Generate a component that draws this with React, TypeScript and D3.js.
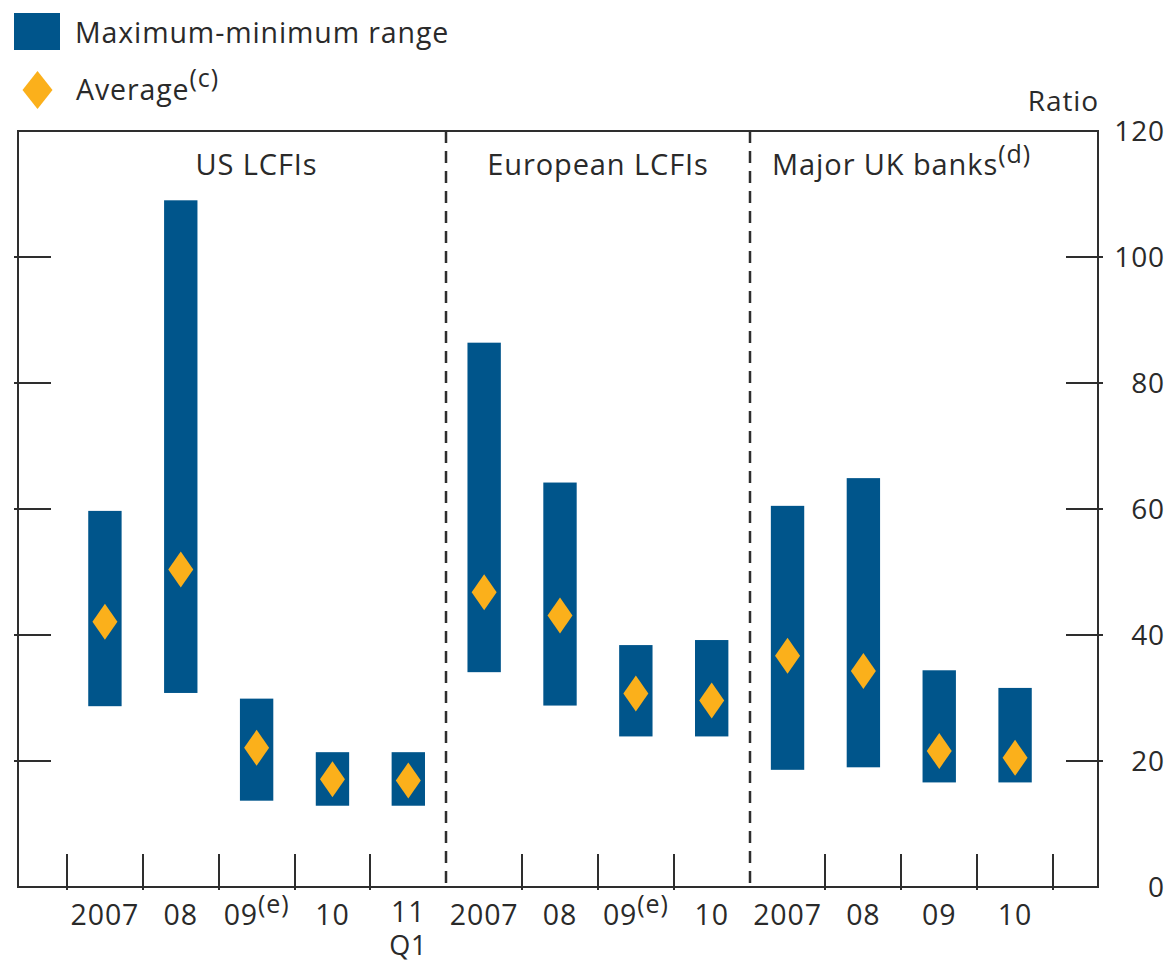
import { useEffect, useRef } from "react";
import * as d3 from "d3";

// bank groups and the periods inside each
const groupNames = ["US LCFIs", "European LCFIs", "Major UK banks"];
const groupNotes = ["", "", "(d)"];
const groupOf = [0, 0, 0, 0, 0, 1, 1, 1, 1, 2, 2, 2, 2];
const periodLabels = ["2007", "08", "09", "10", "11", "2007", "08", "09", "10", "2007", "08", "09", "10"];
const periodNotes = ["", "", "(e)", "", "", "", "", "(e)", "", "", "", "", ""];
const periodSubLabels = ["", "", "", "", "Q1", "", "", "", "", "", "", "", ""];

// ratio values
const maxValues = [59.7, 109, 29.9, 21.4, 21.4, 86.4, 64.2, 38.4, 39.2, 60.5, 64.9, 34.4, 31.6];
const minValues = [28.7, 30.8, 13.7, 12.9, 12.9, 34.1, 28.8, 23.9, 23.9, 18.6, 19.0, 16.6, 16.6];
const averages = [42.1, 50.4, 22.1, 17.1, 16.9, 46.8, 43.1, 30.7, 29.6, 36.7, 34.3, 21.6, 20.5];
const yTicks = [0, 20, 40, 60, 80, 100, 120];

const BAR = "#00558b";
const DIAMOND = "#fbb01b";
const INK = "#2a2a2a";
const LINE = "#2e2e2e";
const FONT = "'Open Sans', 'Noto Sans', sans-serif";

export default function App() {
  const svgRef = useRef<SVGSVGElement>(null);

  useEffect(() => {
    const svg = d3.select(svgRef.current);
    svg.selectAll("*").remove();

    const frame = { left: 18, right: 1098 };
    const y = d3.scaleLinear().domain([0, 120]).range([887, 131]);
    const idx = periodLabels.map((_, i) => String(i));
    const x = d3
      .scaleBand<string>()
      .domain(idx)
      .range([67, 1053])
      .paddingInner(0.56)
      .paddingOuter(0.28);
    const gap = (x.step() - x.bandwidth()) / 2;
    const boundary = (k: number) =>
      Math.round(
        k < idx.length ? (x(String(k)) || 0) - gap : (x(String(k - 1)) || 0) + x.bandwidth() + gap
      );
    const centre = (i: number) => (x(String(i)) || 0) + x.bandwidth() / 2;

    const g = svg
      .append("g")
      .attr("font-family", FONT)
      .attr("fill", INK)
      .attr("letter-spacing", 0.9);

    // legend
    g.append("rect").attr("x", 14).attr("y", 13).attr("width", 46).attr("height", 37).attr("fill", BAR);
    g.append("text").attr("x", 75).attr("y", 43).attr("font-size", 28.5).text("Maximum-minimum range");
    g.append("path")
      .attr("d", "M37.5,71 L52.5,90 L37.5,109 L22.5,90 Z")
      .attr("fill", DIAMOND);
    const avgText = g.append("text").attr("x", 76).attr("y", 100).attr("font-size", 28.5);
    avgText.append("tspan").text("Average");
    avgText.append("tspan").attr("font-size", 25).attr("dy", -13).text("(c)");

    // group separators (dashed)
    const splits = [5, 9];
    g.selectAll("line.split")
      .data(splits)
      .enter()
      .append("line")
      .attr("class", "split")
      .attr("x1", (k) => boundary(k))
      .attr("x2", (k) => boundary(k))
      .attr("y1", y(120))
      .attr("y2", y(0))
      .attr("stroke", LINE)
      .attr("stroke-width", 2.5)
      .attr("stroke-dasharray", "12,8");

    // bottom ticks at period boundaries
    const tickIdx = d3.range(0, idx.length + 1).filter((k) => !splits.includes(k));
    g.selectAll("line.xtick")
      .data(tickIdx)
      .enter()
      .append("line")
      .attr("class", "xtick")
      .attr("x1", (k) => boundary(k))
      .attr("x2", (k) => boundary(k))
      .attr("y1", y(0) - 33)
      .attr("y2", y(0) + 3)
      .attr("stroke", LINE)
      .attr("stroke-width", 2);

    // y ticks on both sides
    const inner = yTicks.filter((t) => t > 0 && t < 120);
    g.selectAll("line.ytickL")
      .data(inner)
      .enter()
      .append("line")
      .attr("x1", frame.left - 4)
      .attr("x2", frame.left + 33)
      .attr("y1", (d) => y(d))
      .attr("y2", (d) => y(d))
      .attr("stroke", LINE)
      .attr("stroke-width", 2);
    g.selectAll("line.ytickR")
      .data(inner)
      .enter()
      .append("line")
      .attr("x1", frame.right - 32)
      .attr("x2", frame.right + 5)
      .attr("y1", (d) => y(d))
      .attr("y2", (d) => y(d))
      .attr("stroke", LINE)
      .attr("stroke-width", 2);

    // frame
    g.append("rect")
      .attr("x", frame.left)
      .attr("y", y(120))
      .attr("width", frame.right - frame.left)
      .attr("height", y(0) - y(120))
      .attr("fill", "none")
      .attr("stroke", LINE)
      .attr("stroke-width", 2);

    // y labels
    g.selectAll("text.ylab")
      .data(yTicks)
      .enter()
      .append("text")
      .attr("x", 1165)
      .attr("y", (d) => y(d) + 10)
      .attr("text-anchor", "end")
      .attr("font-size", 28)
      .text((d) => d);
    g.append("text")
      .attr("x", frame.right + 1)
      .attr("y", 111)
      .attr("text-anchor", "end")
      .attr("font-size", 28)
      .text("Ratio");

    // ranges
    g.selectAll("rect.range")
      .data(idx)
      .enter()
      .append("rect")
      .attr("x", (d) => x(d) || 0)
      .attr("y", (_, i) => y(maxValues[i]))
      .attr("width", x.bandwidth())
      .attr("height", (_, i) => y(minValues[i]) - y(maxValues[i]))
      .attr("fill", BAR);

    // averages
    const dw = 12.5;
    const dh = 18;
    g.selectAll("path.avg")
      .data(idx)
      .enter()
      .append("path")
      .attr("d", (_, i) => {
        const cx = centre(i);
        const cy = y(averages[i]);
        return `M${cx},${cy - dh} L${cx + dw},${cy} L${cx},${cy + dh} L${cx - dw},${cy} Z`;
      })
      .attr("fill", DIAMOND);

    // group titles
    groupNames.forEach((name, gi) => {
      const members = groupOf.map((v, i) => (v === gi ? i : -1)).filter((i) => i >= 0);
      const left = boundary(members[0]);
      const right = boundary(members[members.length - 1] + 1);
      const t = g
        .append("text")
        .attr("x", (left + right) / 2)
        .attr("y", 175)
        .attr("text-anchor", "middle")
        .attr("font-size", 29);
      t.append("tspan").text(name);
      if (groupNotes[gi]) t.append("tspan").attr("font-size", 25).attr("dy", -12).text(groupNotes[gi]);
    });

    // period labels
    periodLabels.forEach((lab, i) => {
      const t = g
        .append("text")
        .attr("x", centre(i))
        .attr("y", periodSubLabels[i] ? 922 : 925)
        .attr("text-anchor", "middle")
        .attr("font-size", 28.5);
      t.append("tspan").text(lab);
      if (periodNotes[i]) t.append("tspan").attr("font-size", 25).attr("dy", -12).text(periodNotes[i]);
      if (periodSubLabels[i]) {
        g.append("text")
          .attr("x", centre(i))
          .attr("y", 955)
          .attr("text-anchor", "middle")
          .attr("font-size", 27)
          .text(periodSubLabels[i]);
      }
    });
  }, []);

  return (
    <svg
      ref={svgRef}
      width={1167}
      height={963}
      style={{ position: "absolute", left: 0, top: 0, background: "#fff" }}
    />
  );
}
